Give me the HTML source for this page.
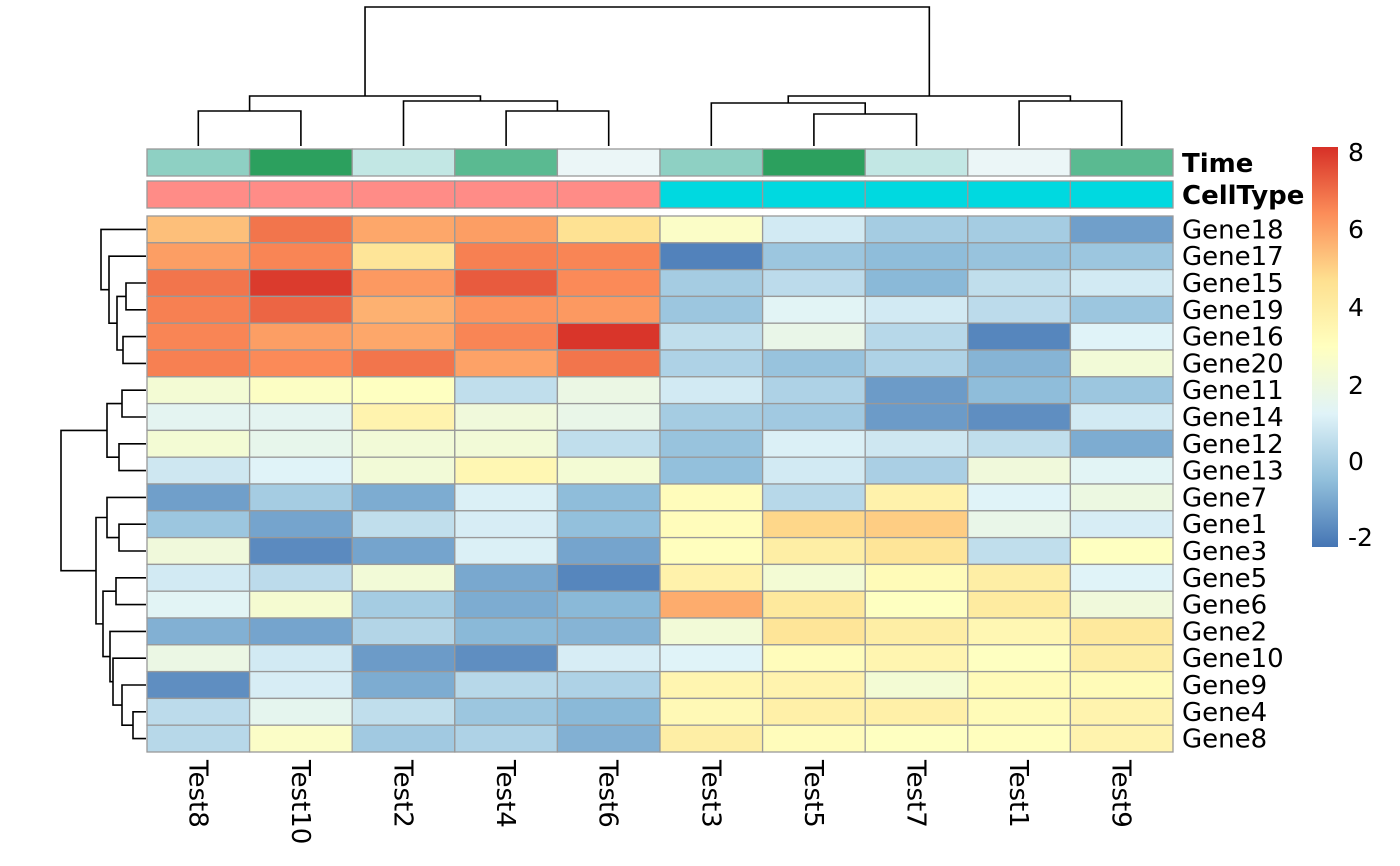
<!DOCTYPE html>
<html><head><meta charset="utf-8">
<style>
html,body{margin:0;padding:0;background:#fff;}
svg{display:block;font-family:"DejaVu Sans","Liberation Sans",sans-serif;}
</style></head>
<body>
<svg id="s" width="1400" height="866" viewBox="0 0 1400 866" xmlns="http://www.w3.org/2000/svg">
<defs>
<linearGradient id="lg" x1="0" y1="1" x2="0" y2="0">
<stop offset="0" stop-color="#4575B4"/>
<stop offset="0.1667" stop-color="#91BFDB"/>
<stop offset="0.3333" stop-color="#E0F3F8"/>
<stop offset="0.5" stop-color="#FFFFBF"/>
<stop offset="0.6667" stop-color="#FEE090"/>
<stop offset="0.8333" stop-color="#FC8D59"/>
<stop offset="1" stop-color="#D73027"/>
</linearGradient>
</defs>
<g id="g"></g>
</svg>
<script>
var g=document.getElementById('g');
var html='';
var x0=147,cw=102.6,y0=216,rh=26.8;
var cols=["Test8","Test10","Test2","Test4","Test6","Test3","Test5","Test7","Test1","Test9"];
var rows=["Gene18","Gene17","Gene15","Gene19","Gene16","Gene20","Gene11","Gene14","Gene12","Gene13","Gene7","Gene1","Gene3","Gene5","Gene6","Gene2","Gene10","Gene9","Gene4","Gene8"];
var V=[
[5.5,7,6,6.2,4.7,2.8,1,0,0,-1.2],
[6.2,6.7,4.5,6.8,6.7,-1.9,-0.2,-0.5,-0.3,-0.2],
[7,8.1,6.3,7.5,6.6,0,0.5,-0.6,0.6,1.0],
[6.8,7.3,5.8,6.4,6.3,-0.2,1.4,1.0,0.5,-0.2],
[6.7,6.2,6.0,6.7,8.2,0.6,1.8,0.4,-1.8,1.3],
[6.8,6.6,7.0,6.1,7.0,0.2,-0.3,0.2,-0.7,2.3],
[2.4,2.9,3.0,0.6,1.9,1.0,0.2,-1.3,-0.5,-0.2],
[1.5,1.5,3.7,2.2,1.8,0,-0.1,-1.3,-1.6,1.0],
[2.4,1.7,2.3,2.3,0.6,-0.3,1.2,0.9,0.6,-0.9],
[0.9,1.3,2.3,3.5,2.4,-0.4,1,0.1,2.2,1.4],
[-1.2,0,-0.9,1.2,-0.5,3.2,0.4,3.8,1.3,2.0],
[-0.2,-1.1,0.6,1.1,-0.4,3.2,5.0,5.2,1.8,1.1],
[2.2,-1.7,-1.1,1.2,-1.1,3.1,4.0,4.5,0.6,3.0],
[1.0,0.5,2.3,-1.0,-1.8,3.8,2.4,3.3,4.0,1.3],
[1.4,2.5,0,-0.9,-0.6,5.9,4.3,3.0,4.2,2.2],
[-0.8,-1.1,0.3,-0.6,-0.7,2.3,4.5,4.0,3.5,4.3],
[1.9,1.0,-1.3,-1.6,1.1,1.3,3.2,3.6,3.0,4.0],
[-1.6,1.1,-0.9,0.4,0.2,3.6,3.7,2.4,3.3,3.3],
[0.5,1.6,0.6,-0.2,-0.6,3.4,3.9,3.9,3.3,3.7],
[0.4,2.8,-0.1,0.2,-0.8,4.0,3.2,3.0,3.1,3.7]];
var pal=[[69,117,180],[145,191,219],[224,243,248],[255,255,191],[254,224,144],[252,141,89],[215,48,39]];
function col(v){var t=(v+2.2)/10.5;t=Math.max(0,Math.min(1,t))*6;var i=Math.min(5,Math.floor(t)),f=t-i;
var a=pal[i],b=pal[i+1];return 'rgb('+a.map((c,k)=>Math.round(c+(b[k]-c)*f)).join(',')+')';}
var st='stroke="#999" stroke-width="1.3"';
var tcol=["#8ED0C3","#2CA05E","#C2E7E4","#5ABA91","#EBF6F7","#8ED0C3","#2CA05E","#C2E7E4","#EBF6F7","#5ABA91"];
for(var c=0;c<10;c++){
 html+='<rect x="'+(x0+c*cw)+'" y="149" width="'+cw+'" height="27" fill="'+tcol[c]+'" '+st+'/>';
 html+='<rect x="'+(x0+c*cw)+'" y="181" width="'+cw+'" height="27" fill="'+(c<5?'#FF8C87':'#00D9E0')+'" '+st+'/>';
}
for(var r=0;r<20;r++)for(var c=0;c<10;c++)
 html+='<rect x="'+(x0+c*cw)+'" y="'+(y0+r*rh)+'" width="'+cw+'" height="'+rh+'" fill="'+col(V[r][c])+'" '+st+'/>';
for(var r=0;r<20;r++) html+='<text x="1182" y="'+(y0+r*rh+rh/2+9)+'" font-size="26">'+rows[r]+'</text>';
html+='<text x="1182" y="172" font-size="26" font-weight="bold">Time</text>';
html+='<text x="1182" y="204" font-size="26" font-weight="bold">CellType</text>';
for(var c=0;c<10;c++){var cx=x0+c*cw+cw/2-9;
 html+='<text transform="translate('+cx+',760) rotate(90)" font-size="26">'+cols[c]+'</text>';}
// legend
html+='<rect x="1312" y="147" width="26" height="400" fill="url(#lg)"/>';
[["8",152],["6",229],["4",307],["2",385],["0",461],["-2",537]].forEach(function(a){
 html+='<text x="1348" y="'+(a[1]+9)+'" font-size="25">'+a[0]+'</text>';});
// dendrograms
var p='';
function U(xa,xb,ya,yb,yt){p+='M'+xa+' '+ya+'V'+yt+'H'+xb+'V'+yb;}
var cc=[];for(var c=0;c<10;c++)cc.push(x0+c*cw+cw/2);
var L=146;
U(cc[0],cc[1],L,L,111);
U(cc[3],cc[4],L,L,111);
var m34=(cc[3]+cc[4])/2;
U(cc[2],m34,L,111,101);
var m01=(cc[0]+cc[1])/2,m234=(cc[2]+m34)/2;
U(m01,m234,111,101,96);
U(cc[6],cc[7],L,L,114);
var m67=(cc[6]+cc[7])/2;
U(cc[5],m67,L,114,103);
U(cc[8],cc[9],L,L,101);
var mr1=(cc[5]+m67)/2,mr2=(cc[8]+cc[9])/2;
U(mr1,mr2,103,101,96);
U((m01+m234)/2,(mr1+mr2)/2,96,96,7);
// rows
var rr=[];for(var r=0;r<20;r++)rr.push(y0+r*rh+rh/2);
var R=146;
function V2(ya,yb,xa,xb,xt){p+='M'+xa+' '+ya+'H'+xt+'V'+yb+'H'+xb;}
V2(rr[2],rr[3],R,R,126);var a23=(rr[2]+rr[3])/2;
V2(rr[4],rr[5],R,R,123);var a45=(rr[4]+rr[5])/2;
V2(a23,a45,126,123,117);var a25=(a23+a45)/2;
V2(rr[1],a25,R,117,109);var a15=(rr[1]+a25)/2;
V2(rr[0],a15,R,109,101);var top=(rr[0]+a15)/2;
V2(rr[6],rr[7],R,R,122);var b67=(rr[6]+rr[7])/2;
V2(rr[8],rr[9],R,R,119);var b89=(rr[8]+rr[9])/2;
V2(b67,b89,122,119,107);var b69=(b67+b89)/2;
V2(rr[11],rr[12],R,R,119);var c12=(rr[11]+rr[12])/2;
V2(rr[10],c12,R,119,107);var c7=(rr[10]+c12)/2;
V2(rr[13],rr[14],R,R,116);var d=(rr[13]+rr[14])/2;
V2(rr[18],rr[19],R,R,133);var e=(rr[18]+rr[19])/2;
V2(rr[17],e,R,133,122);var e2=(rr[17]+e)/2;
V2(rr[16],e2,R,122,113);var e3=(rr[16]+e2)/2;
V2(rr[15],e3,R,113,110);var e4=(rr[15]+e3)/2;
V2(d,e4,116,110,103);var e5=(d+e4)/2;
V2(c7,e5,107,103,96);var e6=(c7+e5)/2;
V2(b69,e6,107,96,61);var bot=(b69+e6)/2;
V2(top,bot,101,61,7);
html+='<path d="'+p+'" fill="none" stroke="#000" stroke-width="1.6"/>';
g.innerHTML=html;
</script>
</body></html>
